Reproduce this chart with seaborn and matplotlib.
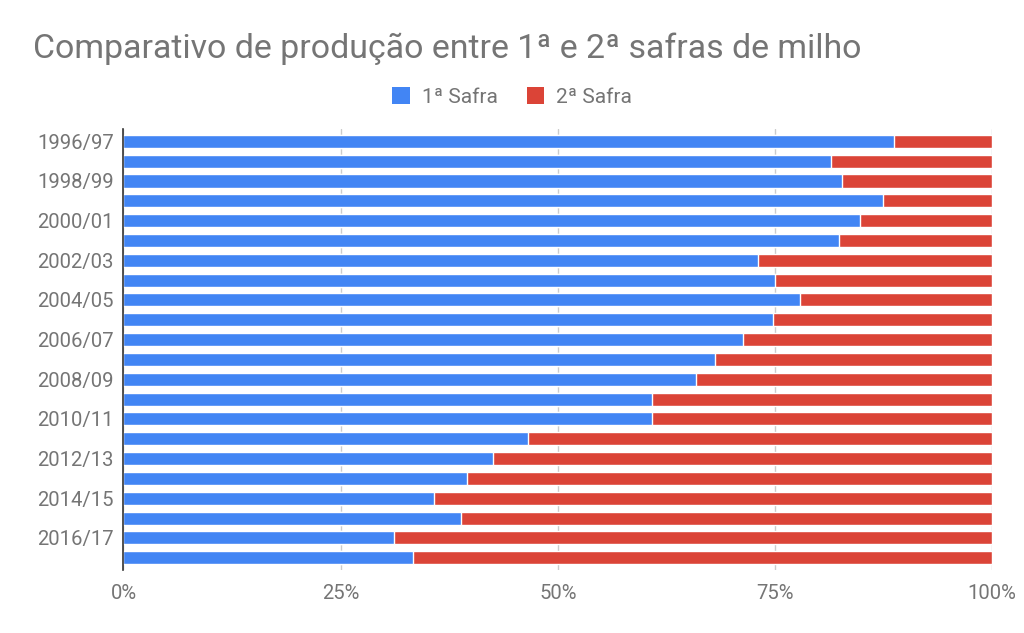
import matplotlib
matplotlib.use("Agg")
import matplotlib.pyplot as plt
import seaborn as sns
import pandas as pd
from matplotlib.patches import Patch
from matplotlib.ticker import FuncFormatter

safras = ["1996/97", "1997/98", "1998/99", "1999/00", "2000/01", "2001/02",
          "2002/03", "2003/04", "2004/05", "2005/06", "2006/07", "2007/08",
          "2008/09", "2009/10", "2010/11", "2011/12", "2012/13", "2013/14",
          "2014/15", "2015/16", "2016/17", "2017/18"]
primeira = [88.7, 81.5, 82.7, 87.5, 84.8, 82.4, 73.0, 75.0, 77.9, 74.8, 71.3,
            68.1, 65.9, 60.8, 60.8, 46.6, 42.6, 39.6, 35.7, 38.9, 31.2, 33.3]
segunda = [11.3, 18.5, 17.3, 12.5, 15.2, 17.6, 27.0, 25.0, 22.1, 25.2, 28.7,
           31.9, 34.1, 39.2, 39.2, 53.4, 57.4, 60.4, 64.3, 61.1, 68.8, 66.7]

BLUE = "#4285F4"
RED = "#DB4437"
GRAY = "#757575"

sns.set_theme(style="white")
plt.rcParams["font.family"] = ["Roboto", "DejaVu Sans"]

df = pd.DataFrame({"safra": safras, "primeira": primeira, "segunda": segunda})
df["total"] = df["primeira"] + df["segunda"]

fig = plt.figure(figsize=(10.24, 6.33), dpi=100)
ax = fig.add_axes([0.1206, 0.0995, 0.8482, 0.6967])

sns.barplot(data=df, x="total", y="safra", color=RED, orient="h",
            width=0.66, saturation=1, ax=ax, zorder=3)
sns.barplot(data=df, x="primeira", y="safra", color=BLUE, orient="h",
            width=0.66, saturation=1, ax=ax, zorder=4)

ax.set_xlim(0, 100)
ax.set_ylim(len(safras) - 1 + 0.62, -0.62)
ax.set_xticks([0, 25, 50, 75, 100])
ax.xaxis.set_major_formatter(FuncFormatter(lambda v, p: f"{int(v)}%"))
ax.set_yticks(range(len(safras)))
ax.set_yticklabels([s if i % 2 == 0 else "" for i, s in enumerate(safras)])
ax.set_xlabel("")
ax.set_ylabel("")
ax.grid(axis="x", color="#cccccc", linewidth=1, zorder=0)
ax.grid(axis="y", visible=False)
for side in ["top", "right", "bottom"]:
    ax.spines[side].set_visible(False)
ax.spines["left"].set_color("#333333")
ax.spines["left"].set_linewidth(1.2)
ax.spines["left"].set_zorder(5)
ax.tick_params(axis="both", length=0, colors=GRAY, labelsize=14.6)
ax.tick_params(axis="y", pad=7)
ax.tick_params(axis="x", pad=10)

fig.text(0.032, 0.923, "Comparativo de produção entre 1ª e 2ª safras de milho",
         fontsize=24.4, color=GRAY, ha="left", va="center")

handles = [Patch(facecolor=BLUE, edgecolor="none", label="1ª Safra"),
           Patch(facecolor=RED, edgecolor="none", label="2ª Safra")]
leg = fig.legend(handles=handles, loc="center", bbox_to_anchor=(0.5, 0.847),
                 ncol=2, frameon=False, fontsize=15, handlelength=0.85,
                 handleheight=0.85, handletextpad=0.55, columnspacing=1.4)
for t in leg.get_texts():
    t.set_color(GRAY)

fig.savefig("out.png", dpi=100)
